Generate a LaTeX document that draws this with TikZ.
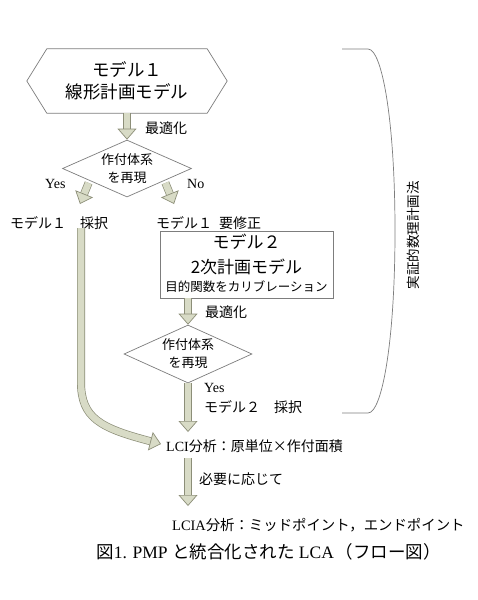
\documentclass[tikz,border=0pt]{standalone}
\usepackage{fontspec}
\setmainfont{Liberation Serif}
\newfontfamily\jp{Noto Sans CJK JP}
\usetikzlibrary{arrows.meta,shapes.geometric,calc}
\definecolor{afill}{RGB}{216,219,198}
\definecolor{aborder}{RGB}{140,142,120}
\definecolor{lgray}{RGB}{125,125,125}
\newcommand\fz[1]{\fontsize{#1pt}{#1pt}\selectfont}
\tikzset{
  barrow/.style={draw=aborder, line width=0.7pt, double=afill, double distance=6.6pt,
    -{Triangle[width=19pt,length=11pt,fill=afill,color=aborder,line width=0.7pt]}},
  shapeline/.style={draw=lgray, line width=0.7pt},
  jl/.style={font=\jp\fz{14}, inner sep=0pt},
  rl/.style={font=\rmfamily\fz{14}, inner sep=0pt},
}
\begin{document}
\begin{tikzpicture}[x=1pt,y=-1pt]
\useasboundingbox (0,0) rectangle (478,600);
\fill[white] (0,0) rectangle (478,600);

% hexagon
\node[minimum width=200, minimum height=64, align=center, inner sep=0pt,
      font=\jp\fontsize{17.5pt}{22pt}\selectfont] (hex) at (127,81) {モデル１\\線形計画モデル};
\draw[shapeline] (hex.west) -- ([xshift=20]hex.north west) -- ([xshift=-20]hex.north east)
  -- (hex.east) -- ([xshift=-20]hex.south east) -- ([xshift=20]hex.south west) -- cycle;

% diamond 1
\node[diamond, shapeline, aspect=2.2, minimum width=129, minimum height=57, inner sep=0pt,
      align=center, font=\jp\fontsize{13pt}{18pt}\selectfont] (d1) at (127,168.5) {作付体系\\を再現};
\draw[barrow] (hex.south) -- (d1.north);
\node[jl, anchor=west] (opt1) at (145,128) {最適化};

% yes / no
\coordinate (yestip) at (80,204);
\coordinate (notip) at (174,204);
\draw[barrow] ([xshift=-6]d1.south west) -- (yestip);
\draw[barrow] ([xshift=6]d1.south east) -- (notip);
\node[rl, anchor=west] (yes1) at (45,184) {Yes};
\node[rl, anchor=west] (no1) at (187,184) {No};
\node[jl, anchor=west] (m1a) at (10,223) {モデル１　採択};
\node[jl, anchor=west] (m1b) at (156,223) {モデル１\hspace{0.5em}要修正};

% model 2 box
\node[shapeline, draw, minimum width=173, minimum height=67] (m2) at (246.5,264.5) {};
\node[font=\jp\fz{17}, inner sep=0pt] (m2a) at ([yshift=22.5]m2.center) {モデル２};
\node[font=\jp\fz{17}, inner sep=0pt] (m2b) at ([yshift=-2.5]m2.center) {2次計画モデル};
\node[font=\jp\fz{12.5}, inner sep=0pt] (m2c) at ([yshift=-22.5]m2.center) {目的関数をカリブレーション};

% diamond 2
\node[diamond, shapeline, aspect=2.2, minimum width=128, minimum height=58, inner sep=0pt,
      align=center, font=\jp\fontsize{13pt}{18pt}\selectfont] (d2) at (188,354) {作付体系\\を再現};
\draw[barrow] (d2.north |- m2.south) -- (d2.north);
\node[jl, anchor=west] (opt2) at (205,312) {最適化};
\node[rl, anchor=west] (yes2) at (204,388) {Yes};
\node[jl, anchor=west] (m2ok) at (204,407) {モデル２　採択};

% LCI
\node[font=\fz{14}, inner sep=0pt, anchor=west] (lci) at (166,446)
  {{\rmfamily LCI}{\jp 分析：原単位×作付面積}};
\coordinate (a3tip) at (188,432);
\draw[barrow] (d2.south) -- (a3tip);
\coordinate (c0) at (81,228);
\draw[barrow] (c0) -- (81,382) .. controls (81,418) and (100,428) .. ([xshift=-5,yshift=2]lci.west);

\coordinate (a4s) at (188,458);
\coordinate (a4e) at (188,506);
\draw[barrow] (a4s) -- (a4e);
\node[jl, anchor=west] (need) at (199,479) {必要に応じて};
\node[font=\fz{14.4}, inner sep=0pt, anchor=west] (lcia) at (172,525)
  {{\rmfamily LCIA}{\jp 分析：ミッドポイント，エンドポイント}};

% caption
\node[font=\fz{17.5}, inner sep=0pt] (cap) at (268.5,552)
  {{\jp 図}{\rmfamily 1. PMP\hspace{0.25em}}{\jp と統合化された}\hspace{0.25em}{\rmfamily LCA}\hspace{0.1em}{\jp （フロー図）}};

% bracket
\draw[shapeline] (342,49) -- (368,49) .. controls (382,49) and (395,120) .. (395,231)
  .. controls (395,342) and (382,413) .. (368,413) -- (342,413);
\node[rotate=90, font=\jp\fz{13.5}, inner sep=0pt] (brt) at (413,235) {実証的数理計画法};
\end{tikzpicture}
\end{document}
